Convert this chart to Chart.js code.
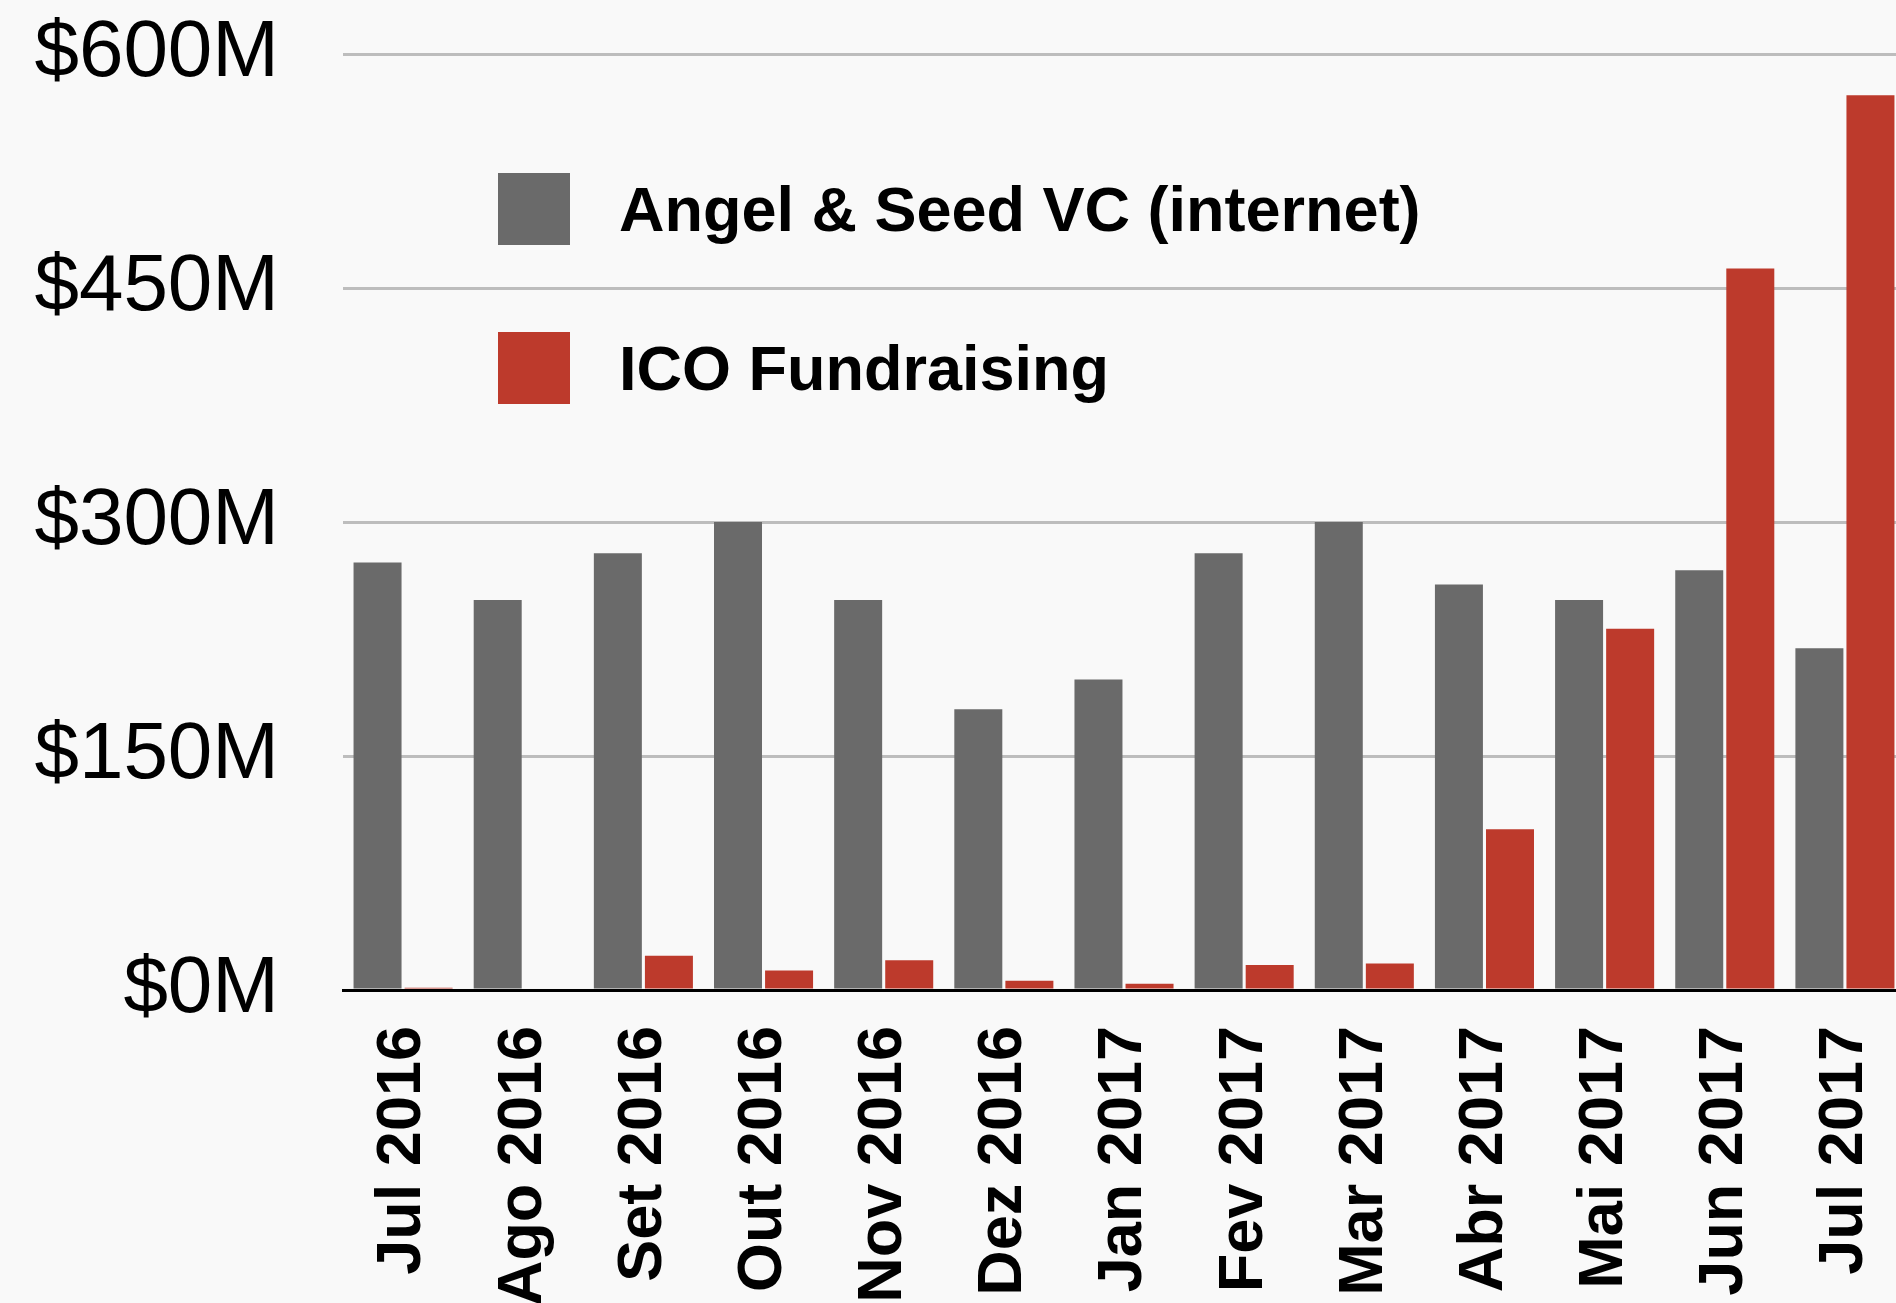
<!DOCTYPE html>
<html>
<head>
<meta charset="utf-8">
<script src="https://cdn.jsdelivr.net/npm/chart.js@4"></script>
<style>
  html, body { margin: 0; padding: 0; background: #f9f9f9; overflow: hidden; }
  #wrap { width: 1905px; height: 1303px; }
</style>
</head>
<body>
<div id="wrap"><canvas id="fundChart"></canvas></div>
<script>
const months = ['Jul 2016','Ago 2016','Set 2016','Out 2016','Nov 2016','Dez 2016',
                'Jan 2017','Fev 2017','Mar 2017','Abr 2017','Mai 2017','Jun 2017','Jul 2017'];
const angelSeed = [274, 250, 280, 300, 250, 180, 199, 280, 300, 260, 250, 269, 219];
const icoFunds  = [1.5, 0, 22, 12.5, 19, 6, 4, 16, 17, 103, 231.5, 462.5, 573.5];
const yTicks = [0, 150, 300, 450, 600];

const GRAY = '#6a6a6a';
const RED = '#bd3a2c';

// legend drawn inside the plot, like the original
const insideLegend = {
    id: 'insideLegend',
    afterDraw(chart) {
        const ctx = chart.ctx;
        const area = chart.chartArea;
        const x0 = area.left + 155;
        let y0 = 173;
        ctx.save();
        ctx.font = 'bold 63px "Liberation Sans", Arial, sans-serif';
        ctx.textBaseline = 'middle';
        chart.data.datasets.forEach(ds => {
            ctx.fillStyle = ds.backgroundColor;
            ctx.fillRect(x0, y0, 72, 72);
            ctx.fillStyle = '#000';
            ctx.fillText(ds.label, x0 + 121, y0 + 41);
            y0 += 159;
        });
        ctx.restore();
    }
};

const ctx = document.getElementById('fundChart');
const chart = new Chart(ctx, {
    type: 'bar',
    data: {
        labels: months,
        datasets: [{
            label: 'Angel & Seed VC (internet)',
            data: angelSeed,
            backgroundColor: GRAY,
            categoryPercentage: 0.85,
            barPercentage: 0.94
        }, {
            label: 'ICO Fundraising',
            data: icoFunds,
            backgroundColor: RED,
            categoryPercentage: 0.85,
            barPercentage: 0.94
        }]
    },
    options: {
        responsive: true,
        maintainAspectRatio: false,
        animation: false,
        layout: { padding: { top: 54, right: 0, left: 0, bottom: 0 } },
        scales: {
            x: {
                grid: { display: false, drawTicks: false },
                border: { color: '#000', width: 3 },
                ticks: {
                    color: '#000',
                    minRotation: 90,
                    maxRotation: 90,
                    autoSkip: false,
                    padding: 36,
                    font: { family: '"Liberation Sans", Arial, sans-serif', size: 63, weight: 'bold' }
                },
                afterFit: (axis) => {
                    axis.height = 313;
                    axis.paddingLeft = 0;
                    axis.paddingRight = 0;
                }
            },
            y: {
                min: 0,
                max: 600,
                afterBuildTicks: (axis) => { axis.ticks = yTicks.map(v => ({ value: v })); },
                grid: { color: '#bdbdbd', lineWidth: 3, drawTicks: false },
                border: { display: false },
                ticks: {
                    color: '#000',
                    padding: 64,
                    font: { family: '"Liberation Sans", Arial, sans-serif', size: 80 },
                    callback: (v) => '$' + v + 'M'
                },
                afterFit: (axis) => {
                    axis.width = 343;
                    axis.paddingTop = 0;
                    axis.paddingBottom = 0;
                }
            }
        },
        plugins: {
            legend: { display: false },
            tooltip: { enabled: false }
        }
    },
    plugins: [insideLegend]
});
</script>
</body>
</html>
